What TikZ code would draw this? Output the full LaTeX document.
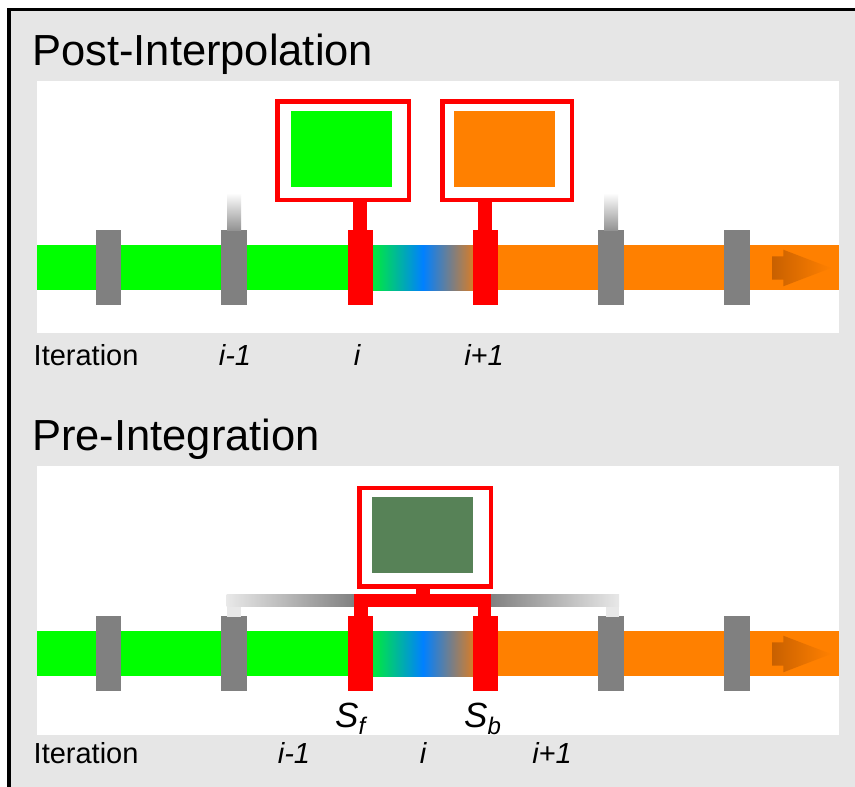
\documentclass[tikz,border=0pt]{standalone}
\usepackage{fontspec}
\setmainfont{Liberation Sans}
\definecolor{bg}{HTML}{E6E6E6}
\definecolor{pgray}{HTML}{808080}
\definecolor{lgray}{HTML}{E8E8E8}
\definecolor{pgreen}{HTML}{00FF00}
\definecolor{porange}{HTML}{FF8000}
\definecolor{pred}{HTML}{FF0000}
\definecolor{pblue}{HTML}{0080FF}
\definecolor{gstart}{RGB}{0,235,60}
\definecolor{gend}{RGB}{215,125,40}
\definecolor{dgreen}{HTML}{578257}
\definecolor{darrow}{RGB}{200,96,0}
\tikzset{
  graypost/.style={fill=pgray},
  redpost/.style={fill=pred},
  redbox/.style={draw=pred, line width=4.5pt, fill=white},
  titletext/.style={font=\fontsize{43.5}{44}\selectfont, anchor=base west, inner sep=0pt},
  lbl/.style={font=\fontsize{29}{30}\selectfont, anchor=base, inner sep=0pt},
  lblw/.style={font=\fontsize{29}{30}\selectfont, anchor=base west, inner sep=0pt},
  slbl/.style={anchor=base west, inner sep=0pt, font=\fontsize{35}{35}\selectfont\itshape},
}
\newcommand{\mytimeline}{%
  \fill[pgreen] (37,245) rectangle (361,290);
  \shade[left color=gstart, right color=gend, middle color=pblue] (372.7,245) rectangle (473.3,290);
  \fill[porange] (485,245) rectangle (839,290);
  \shade[left color=darrow, right color=porange] (772,256.3) -- (783.3,256.3) -- (783.3,249.7) -- (831,268) -- (783.3,286.3) -- (783.3,279.7) -- (772,279.7) -- cycle;
  \foreach \c in {108.5,234,611,737} {\fill[graypost] (\c-12.75,230) rectangle (\c+12.75,305);}
  \foreach \c in {360.2,485.5} {\fill[redpost] (\c-12.5,230) rectangle (\c+12.5,305);}
}
\begin{document}
\begin{tikzpicture}[x=1pt,y=-1pt]
\useasboundingbox (0,0) rectangle (855,787);
\clip (0,0) rectangle (855,787);
% frame
\draw[fill=bg, line width=3.4pt] (9,9.2) rectangle (900,900);
% white panels
\fill[white] (37,80.5) rectangle (839,333);
\fill[white] (37,465.5) rectangle (839,734.5);
% titles
\node[titletext] (t1) at (32,65.5) {Post-Interpolation};
\node[titletext] (t2) at (32,450) {Pre-Integration};

% ---------- top timeline ----------
\mytimeline
% fading stems
\shade[top color=white, bottom color=pgray!85] (227,193) rectangle (241,230);
\shade[top color=white, bottom color=pgray!85] (604,193) rectangle (618,230);
% red stems
\fill[pred] (353.3,197) rectangle (366.7,231);
\fill[pred] (478.3,197) rectangle (492.3,231);
% boxes
\node[redbox, minimum width=131.5pt, minimum height=98.5pt, inner sep=0pt, anchor=north west] (b1) at (275.25,99.25) {};
\fill[pgreen] (291,111) rectangle (392,186.7);
\node[redbox, minimum width=129.75pt, minimum height=98.5pt, inner sep=0pt, anchor=north west] (b2) at (440,99.25) {};
\fill[porange] (454,111) rectangle (555,186.7);
% labels
\node[lblw] (it1) at (33.5,365) {Iteration};
\node[lbl] (l1) at (235,365) {\itshape i-1};
\node[lbl] (l2) at (357,365) {\itshape i};
\node[lbl] (l3) at (484,365) {\itshape i+1};

% ---------- bottom timeline ----------
\begin{scope}[yshift=-386pt]
\mytimeline
\end{scope}
% gray brackets
\fill[lgray] (226.7,594) rectangle (240.7,617);
\shade[left color=lgray, right color=pgray] (226.7,594) rectangle (355,606.7);
\fill[lgray] (605.7,594) rectangle (619,617);
\shade[left color=pgray, right color=lgray] (490,594) rectangle (619,606.7);
% red bracket
\fill[pred] (354,594) rectangle (491,606.7);
\fill[pred] (354,594) rectangle (367.7,617);
\fill[pred] (477.7,594) rectangle (491,617);
\fill[pred] (416,584) rectangle (430,595);
% box
\node[redbox, minimum width=131.5pt, minimum height=98.9pt, inner sep=0pt, anchor=north west] (b3) at (357.25,485.55) {};
\fill[dgreen] (371.7,496.7) rectangle (473.3,572.7);
% S labels
\node[slbl] (sf) at (335,727.5) {S\raisebox{-0.2em}{\fontsize{24}{24}\selectfont f}};
\node[slbl] (sb) at (464,727.5) {S\raisebox{-0.2em}{\fontsize{24}{24}\selectfont b}};
% labels
\node[lblw] (it2) at (33.5,763) {Iteration};
\node[lbl] (m1) at (294,763) {\itshape i-1};
\node[lbl] (m2) at (423,763) {\itshape i};
\node[lbl] (m3) at (552,763) {\itshape i+1};
\end{tikzpicture}
\end{document}
